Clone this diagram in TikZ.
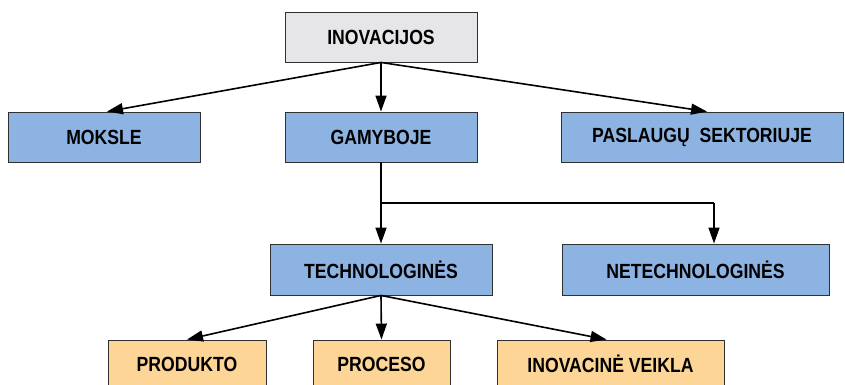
\documentclass[tikz,border=0pt]{standalone}
\usepackage{fontspec}
\setmainfont{Liberation Sans}[FakeStretch=0.86]
\usetikzlibrary{arrows.meta}
\definecolor{boxgray}{HTML}{E6E6E8}
\definecolor{boxblue}{HTML}{8DB3E2}
\definecolor{boxorange}{HTML}{FDD596}
\definecolor{edge}{HTML}{303030}
\tikzset{
  box/.style={draw=edge, line width=0.9pt, inner sep=0pt, minimum height=50pt,
              font=\fontsize{20.5}{22}\selectfont\bfseries, text=black},
  graybox/.style={box, fill=boxgray},
  bluebox/.style={box, fill=boxblue},
  orangebox/.style={box, fill=boxorange},
  arr/.style={line width=1.6pt, -{Triangle[length=16pt,width=11pt]}},
  ln/.style={line width=1.6pt}
}
\begin{document}
\begin{tikzpicture}[x=1pt,y=-1pt]
\useasboundingbox (0,0) rectangle (845,385);
\node[graybox, minimum width=192pt] (inov) at (381,37) {INOVACIJOS};
\node[bluebox, minimum width=192pt] (mok) at (104,137) {MOKSLE};
\node[bluebox, minimum width=192pt] (gam) at (381,137) {GAMYBOJE};
\node[bluebox, minimum width=282pt] (pas) at (702,137) {PASLAUGŲ\ \ SEKTORIUJE};
\node[bluebox, minimum width=222pt, minimum height=51pt] (tech) at (381,269.5) {TECHNOLOGINĖS};
\node[bluebox, minimum width=267pt, minimum height=51pt] (net) at (695.5,269.5) {NETECHNOLOGINĖS};
\node[orangebox, minimum width=158pt, minimum height=48pt] (prod) at (187,364) {PRODUKTO};
\node[orangebox, minimum width=137pt, minimum height=48pt] (proc) at (381.5,364) {PROCESO};
\node[orangebox, minimum width=227pt, minimum height=48pt] (inv) at (610.5,364) {INOVACINĖ VEIKLA};

\draw[arr] (inov.south) -- ([xshift=3pt]mok.north);
\draw[arr] (inov.south) -- (gam.north);
\draw[arr] (inov.south) -- ([xshift=5pt]pas.north);

\coordinate (br) at (381,203);
\coordinate (nt) at (714,203);
\draw[arr] (gam.south) -- (tech.north);
\draw[ln] (br) -- (nt);
\draw[arr] (nt) -- ([xshift=18.5pt]net.north);

\draw[arr] (tech.south) -- (prod.north);
\draw[arr] (tech.south) -- (proc.north);
\draw[arr] (tech.south) -- ([xshift=-4pt]inv.north);
\end{tikzpicture}
\end{document}
